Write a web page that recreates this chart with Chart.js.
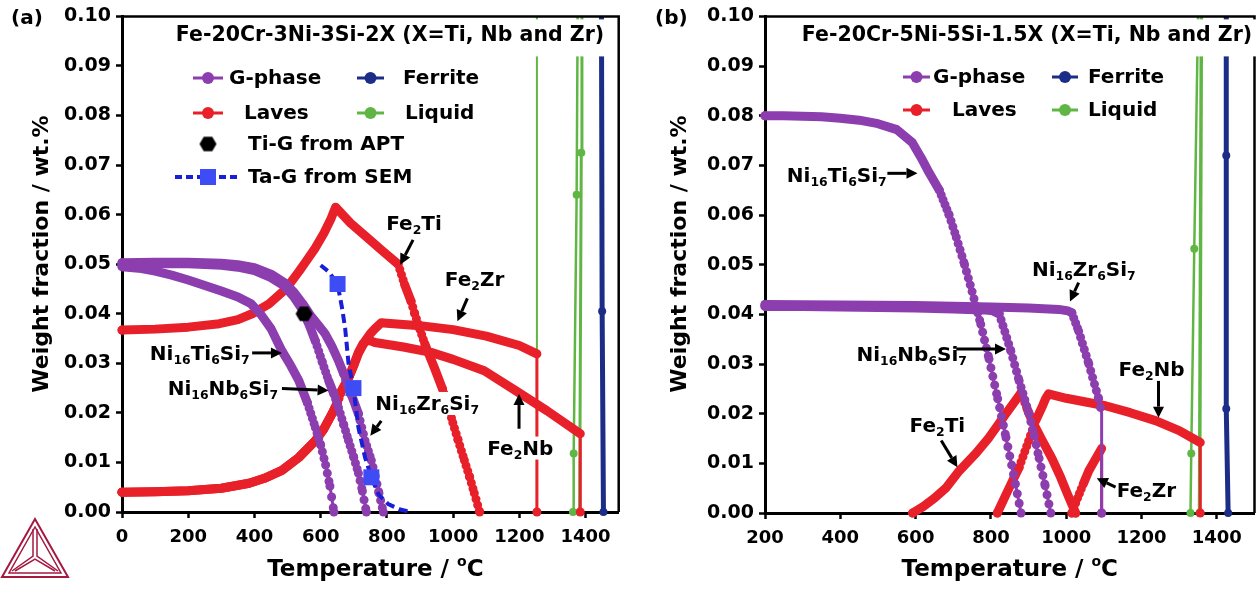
<!DOCTYPE html>
<html>
<head>
<meta charset="utf-8">
<script src="https://cdn.jsdelivr.net/npm/chart.js@4.4.1/dist/chart.umd.min.js"></script>
<style>
html, body { margin: 0; padding: 0; background: #fff; }
#wrap { position: relative; width: 1259px; height: 594px; }
#wrap canvas { position: absolute; top: 0; }
</style>
</head>
<body>
<div id="wrap">
  <canvas id="chartA" width="630" height="594" style="left:0;width:630px;height:594px"></canvas>
  <canvas id="chartB" width="629" height="594" style="left:630px;width:629px;height:594px"></canvas>
</div>
<script>
// ---- panel (a): Fe-20Cr-3Ni-3Si-2X, [temperature degC, weight fraction]
const gTiA = [[0,0.0495],[50,0.0492],[100,0.0486],[150,0.0478],[200,0.0468],[250,0.0457],[300,0.0446],[350,0.0434],[390,0.042],[420,0.0398],[450,0.037],[483,0.0325],[510,0.0295],[534,0.0265],[560,0.022],[584,0.017],[600,0.0135],[615,0.0095],[628,0.0052],[640,0]];
const gNbA = [[0,0.0500],[100,0.0501],[200,0.0501],[300,0.0498],[350,0.0494],[400,0.0487],[450,0.0473],[490,0.0456],[520,0.0433],[545,0.0408],[565,0.0378],[584,0.0345],[605,0.0302],[624,0.0265],[640,0.0238],[654,0.021],[670,0.0175],[684,0.0144],[700,0.011],[714,0.0078],[726,0.0042],[738,0]];
const gZrA = [[0,0.0503],[100,0.0504],[200,0.0504],[300,0.0502],[350,0.0499],[400,0.0493],[450,0.048],[490,0.0463],[520,0.0443],[545,0.0421],[570,0.0396],[594,0.0376],[614,0.0359],[634,0.0334],[654,0.0305],[670,0.0278],[684,0.025],[700,0.0224],[714,0.0198],[734,0.0144],[753,0.0104],[765,0.0072],[776,0.0038],[789,0]];
const fe2TiA = [[0,0.0367],[100,0.0369],[200,0.0373],[294,0.038],[350,0.0388],[393,0.040],[444,0.042],[495,0.045],[534,0.0485],[555,0.0505],[584,0.0533],[610,0.0563],[630,0.059],[645,0.0615],[690,0.0583],[738,0.0555],[790,0.0525],[834,0.050],[853,0.046],[873,0.0425],[884,0.040],[900,0.0368],[914,0.034],[930,0.0313],[944,0.029],[968,0.0248],[985,0.0215],[999,0.018],[1015,0.0145],[1034,0.0104],[1050,0.007],[1064,0.0038],[1080,0]];
const fe2ZrA = [[0,0.0040],[100,0.0041],[200,0.0043],[300,0.0048],[384,0.0058],[430,0.0068],[483,0.0084],[534,0.011],[584,0.0144],[610,0.0168],[634,0.0198],[650,0.022],[663,0.0245],[684,0.027],[700,0.0295],[714,0.032],[734,0.0345],[750,0.036],[764,0.037],[783,0.0382],[800,0.0381],[900,0.0376],[1000,0.0368],[1100,0.0355],[1200,0.0336],[1253,0.0319],[1253,0]];
const fe2NbA = [[0,0.0040],[100,0.0041],[200,0.0043],[300,0.0048],[384,0.0058],[430,0.0068],[483,0.0084],[534,0.011],[584,0.0144],[610,0.0168],[634,0.0198],[650,0.022],[663,0.0245],[684,0.027],[700,0.0298],[714,0.0322],[728,0.034],[744,0.0347],[764,0.0342],[850,0.0333],[933,0.0322],[1000,0.0308],[1094,0.0285],[1184,0.0247],[1284,0.0204],[1384,0.0158],[1384,0.0078],[1384,0]];
const liqA1 = [[1362,0],[1364,0.0118],[1373,0.064],[1376,0.1]];
const liqA2 = [[1382,0],[1387,0.0725],[1389,0.1]];
const liqA3 = [[1253,0],[1253,0.1]];
const ferA = [[1454,0],[1450,0.0405],[1448,0.1]];
const tiGAptA = [[550,0.040]];
const taGSemA = [[651,0.046],[699,0.025],[753,0.007]];
const taFitA = [[600,0.0498],[624,0.0485],[651,0.046],[665,0.041],[674,0.037],[684,0.030],[699,0.025],[714,0.017],[734,0.011],[753,0.007],[775,0.0035],[804,0.0016],[840,0.0005],[873,0]];

// ---- panel (b): Fe-20Cr-5Ni-5Si-1.5X
const gTiB = [[200,0.0800],[250,0.0800],[300,0.0799],[350,0.0798],[400,0.0795],[450,0.0791],[500,0.0784],[550,0.0772],[591,0.0746],[615,0.0715],[636,0.0685],[663,0.065],[689,0.060],[708,0.0555],[730,0.050],[750,0.0446],[773,0.038],[795,0.031],[818,0.023],[840,0.0152],[860,0.0078],[880,0]];
const gNbB = [[200,0.0416],[300,0.0416],[400,0.0415],[500,0.0414],[600,0.0413],[700,0.0411],[780,0.0409],[805,0.0407],[822,0.0401],[837,0.0365],[853,0.0326],[875,0.0266],[901,0.020],[915,0.0155],[928,0.011],[944,0.0055],[959,0]];
const gZrB = [[200,0.0420],[400,0.0419],[600,0.0418],[800,0.0415],[900,0.0413],[980,0.041],[1005,0.0407],[1015,0.0403],[1033,0.0366],[1060,0.030],[1086,0.023],[1094,0.0202],[1094,0]];
const fe2TiB = [[592,0],[620,0.0013],[650,0.003],[680,0.005],[716,0.0085],[760,0.012],[795,0.0152],[840,0.020],[880,0.0242],[895,0.0212],[909,0.0186],[935,0.0148],[962,0.011],[985,0.0072],[1005,0.0035],[1025,0]];
const fe2NbB = [[817,0],[845,0.0045],[875,0.0092],[900,0.0145],[919,0.0186],[935,0.0212],[945,0.023],[953,0.024],[1000,0.0231],[1104,0.0216],[1170,0.0202],[1237,0.0186],[1300,0.0166],[1356,0.0142],[1356,0]];
const fe2ZrB = [[1015,0],[1030,0.003],[1045,0.0058],[1060,0.0085],[1075,0.0105],[1094,0.013],[1094,0]];
const liqB1 = [[1330,0],[1332,0.012],[1340,0.0532],[1350,0.1]];
const liqB2 = [[1354,0],[1359,0.1]];
const ferB = [[1430,0],[1425,0.021],[1425,0.072],[1425,0.1]];

const PURPLE = 'rgb(140,62,175)';
const RED = 'rgb(232,32,42)';
const NAVY = 'rgb(28,45,135)';
const GREEN = 'rgb(96,182,68)';
const DASHBLUE = 'rgb(25,30,215)';
const SQBLUE = 'rgb(62,76,245)';
const STEP = 5; // calculation step of the thermodynamic curves, degC

Chart.defaults.font.family = '"DejaVu Sans"';
Chart.defaults.font.weight = 'bold';
Chart.defaults.color = '#000';

const pts = arr => arr.map(([x, y]) => ({ x, y }));
const font = s => `bold ${s}px "DejaVu Sans"`;

function segDT(ctx) {
  const d = ctx.chart.data.datasets[ctx.datasetIndex].data;
  return Math.abs(d[ctx.p1DataIndex].x - d[ctx.p0DataIndex].x);
}

// one bead per calculation step where the curve is steep, solid band elsewhere
function beadDash(ctx) {
  const dT = segDT(ctx);
  if (dT < 1) return undefined;
  const len = Math.hypot(ctx.p1.x - ctx.p0.x, ctx.p1.y - ctx.p0.y);
  const gap = len * STEP / dT;
  return gap < 5 ? [] : [0.01, gap];
}

function curve(arr, color) {
  const data = pts(arr);
  return [
    { data, showLine: true, borderColor: color, borderWidth: 3, pointRadius: 0, clip: false },
    {
      data, showLine: true, borderColor: color, borderWidth: 9,
      borderCapStyle: 'round', borderJoinStyle: 'round', clip: false,
      pointRadius: c => (c.dataIndex === 0 || c.dataIndex === c.dataset.data.length - 1) ? 4.5 : 0,
      pointBackgroundColor: color, pointBorderWidth: 0,
      segment: {
        borderDash: beadDash,
        borderColor: c => segDT(c) < 1 ? 'rgba(0,0,0,0)' : undefined
      }
    }
  ];
}

function phaseLine(arr, color, width) {
  return {
    data: pts(arr), showLine: true, borderColor: color, borderWidth: width, clip: false,
    pointRadius: c => c.raw && c.raw.y >= 0.1 ? 0 : 4,
    pointBackgroundColor: color, pointBorderWidth: 0
  };
}

function hexCanvas(r) {
  const cv = document.createElement('canvas');
  const s = Math.ceil(2 * r + 2);
  cv.width = s; cv.height = s;
  const g = cv.getContext('2d');
  g.fillStyle = '#000';
  g.beginPath();
  for (let i = 0; i < 6; i++) {
    const t = Math.PI / 3 * i;
    g.lineTo(s / 2 + r * Math.cos(t), s / 2 + r * Math.sin(t));
  }
  g.closePath();
  g.fill();
  return cv;
}
const HEX = hexCanvas(8.5);

function drawRich(c, parts, x, yMid, s, bg) {
  let w = 0;
  parts.forEach((p, i) => { c.font = font(i % 2 ? s * 0.62 : s); w += c.measureText(p).width; });
  if (bg) { c.fillStyle = '#fff'; c.fillRect(x - 2, yMid - s * 0.55, w + 4, s * 1.15); }
  c.fillStyle = '#000';
  c.textAlign = 'left';
  c.textBaseline = 'alphabetic';
  const base = yMid + s * 0.36;
  let cx = x;
  parts.forEach((p, i) => {
    const sub = i % 2 === 1;
    c.font = font(sub ? s * 0.62 : s);
    c.fillText(p, cx, sub ? base + s * 0.2 : base);
    cx += c.measureText(p).width;
  });
  return w;
}

function arrow(c, x1, y1, x2, y2) {
  const ang = Math.atan2(y2 - y1, x2 - x1), L = 11, W = 5.5;
  const bx = x2 - L * Math.cos(ang), by = y2 - L * Math.sin(ang);
  c.strokeStyle = '#000'; c.lineWidth = 3; c.setLineDash([]);
  c.beginPath(); c.moveTo(x1, y1); c.lineTo(bx, by); c.stroke();
  c.fillStyle = '#000';
  c.beginPath();
  c.moveTo(x2, y2);
  c.lineTo(bx - W * Math.sin(ang), by + W * Math.cos(ang));
  c.lineTo(bx + W * Math.sin(ang), by - W * Math.cos(ang));
  c.closePath(); c.fill();
}

function logo(c) {
  const col = 'rgb(165,25,65)';
  c.strokeStyle = col; c.lineJoin = 'miter';
  c.lineWidth = 2;
  c.beginPath(); c.moveTo(35, 519); c.lineTo(2, 577); c.lineTo(68, 577); c.closePath(); c.stroke();
  c.lineWidth = 1.5;
  c.beginPath(); c.moveTo(35, 527); c.lineTo(9, 573); c.lineTo(61, 573); c.closePath(); c.stroke();
  c.beginPath();
  c.moveTo(33, 529); c.lineTo(33, 556); c.lineTo(12, 571);
  c.moveTo(37, 529); c.lineTo(37, 556); c.lineTo(58, 571);
  c.moveTo(15, 571); c.lineTo(35, 559); c.lineTo(55, 571);
  c.stroke();
}

const decor = {
  id: 'decor',
  afterDraw(chart, args, o) {
    const c = chart.ctx, a = chart.chartArea, xs = chart.scales.x, ys = chart.scales.y;
    const px = (T, w) => [xs.getPixelForValue(T), ys.getPixelForValue(w)];
    c.save();
    // top and right frame
    c.strokeStyle = '#000'; c.lineWidth = 2.5;
    c.beginPath(); c.moveTo(a.left, a.top); c.lineTo(a.right, a.top); c.lineTo(a.right, a.bottom); c.stroke();

    // title with white box
    c.font = font(o.titleSize);
    const tw = c.measureText(o.title).width;
    c.fillStyle = '#fff';
    c.fillRect(o.titleX - tw / 2 - 4, a.top + 3, tw + 8, 37);
    c.fillStyle = '#000'; c.textAlign = 'center'; c.textBaseline = 'middle';
    c.fillText(o.title, o.titleX, 36);

    // legend
    o.legend.forEach(it => {
      if (it.kind === 'mk') {
        c.strokeStyle = it.color; c.lineWidth = 3; c.setLineDash([]);
        c.beginPath(); c.moveTo(it.x1, it.y); c.lineTo(it.x2, it.y); c.stroke();
        c.fillStyle = it.color;
        c.beginPath(); c.arc((it.x1 + it.x2) / 2, it.y, 6, 0, Math.PI * 2); c.fill();
      } else if (it.kind === 'hex') {
        c.drawImage(HEX, it.cx - HEX.width / 2, it.y - HEX.height / 2);
      } else if (it.kind === 'dash') {
        c.strokeStyle = DASHBLUE; c.lineWidth = 4; c.setLineDash([7, 4]);
        c.beginPath(); c.moveTo(it.x1, it.y); c.lineTo(it.x2, it.y); c.stroke();
        c.setLineDash([]);
        c.fillStyle = SQBLUE; c.fillRect(it.cx - 8, it.y - 8, 16, 16);
      }
      c.font = font(20); c.fillStyle = '#000'; c.textAlign = 'left'; c.textBaseline = 'middle';
      c.fillText(it.text, it.tx, it.y + 1);
    });

    // curve labels and arrows
    o.notes.forEach(n => { const [x, y] = px(n.T, n.w); drawRich(c, n.t, x, y, 20, true); });
    o.arrows.forEach(r => { const [x1, y1] = px(r[0], r[1]); const [x2, y2] = px(r[2], r[3]); arrow(c, x1, y1, x2, y2); });

    // panel label
    c.font = font(20); c.fillStyle = '#000'; c.textAlign = 'left'; c.textBaseline = 'middle';
    c.fillText(o.panel, o.panelX, 19);

    // axis titles
    c.font = font(22);
    c.save();
    c.translate(o.yTitleX, 254);
    c.rotate(-Math.PI / 2);
    c.textAlign = 'center';
    c.fillText('Weight fraction / wt.%', 0, 0);
    c.restore();
    const p1 = 'Temperature / ', p3 = 'C';
    c.font = font(23); const w1 = c.measureText(p1).width, w3 = c.measureText(p3).width;
    c.font = font(14); const w2 = c.measureText('o').width;
    let x0 = (a.left + a.right) / 2 + o.xTitleShift - (w1 + w2 + w3) / 2;
    c.textAlign = 'left'; c.textBaseline = 'alphabetic';
    c.font = font(23); c.fillText(p1, x0, 576);
    c.font = font(14); c.fillText('o', x0 + w1, 566);
    c.font = font(23); c.fillText(p3, x0 + w1 + w2, 576);

    if (o.logo) logo(c);
    c.restore();
  }
};

function makeChart(id, datasets, xmin, yAxisWidth, padRight, xAxisHeight, deco) {
  return new Chart(document.getElementById(id), {
    type: 'scatter',
    data: { datasets },
    options: {
      responsive: false,
      animation: false,
      events: [],
      layout: { padding: { left: 0, right: padRight, top: 13, bottom: 0 } },
      plugins: { legend: { display: false }, tooltip: { enabled: false }, decor: deco },
      scales: {
        x: {
          type: 'linear', min: xmin, max: 1500,
          afterFit: s => { s.height = xAxisHeight; },
          border: { display: true, color: '#000', width: 3 },
          grid: { display: true, drawOnChartArea: false, drawTicks: true, tickLength: 6, tickWidth: 2.5, color: '#000' },
          ticks: { stepSize: 200, includeBounds: false, autoSkip: false, maxRotation: 0, padding: 9, font: { size: 18, weight: 'bold' }, color: '#000', callback: v => String(v) }
        },
        y: {
          min: 0, max: 0.1,
          afterFit: s => { s.width = yAxisWidth; },
          border: { display: true, color: '#000', width: 3 },
          grid: { display: true, drawOnChartArea: false, drawTicks: true, tickLength: 6, tickWidth: 2.5, color: '#000' },
          ticks: { stepSize: 0.01, padding: 5, font: { size: 19, weight: 'bold' }, color: '#000', callback: v => v.toFixed(2) }
        }
      }
    },
    plugins: [decor]
  });
}

const NI_TI = ['Ni', '16', 'Ti', '6', 'Si', '7'];
const NI_NB = ['Ni', '16', 'Nb', '6', 'Si', '7'];
const NI_ZR = ['Ni', '16', 'Zr', '6', 'Si', '7'];

const datasetsA = [
  { data: pts(taGSemA), pointStyle: 'rect', pointRadius: 11.3, pointBackgroundColor: SQBLUE, pointBorderWidth: 0, clip: false },
  { data: pts(tiGAptA), pointStyle: HEX, clip: false },
  { data: pts(taFitA), showLine: true, borderColor: DASHBLUE, borderWidth: 4, borderDash: [9, 5], pointRadius: 0, clip: false },
  ...curve(gTiA, PURPLE), ...curve(gNbA, PURPLE), ...curve(gZrA, PURPLE),
  ...curve(fe2TiA, RED), ...curve(fe2ZrA, RED), ...curve(fe2NbA, RED),
  phaseLine(liqA1, GREEN, 2.5), phaseLine(liqA2, GREEN, 3), phaseLine(liqA3, GREEN, 2),
  phaseLine(ferA, NAVY, 5)
];

const datasetsB = [
  ...curve(gTiB, PURPLE), ...curve(gNbB, PURPLE), ...curve(gZrB, PURPLE),
  ...curve(fe2TiB, RED), ...curve(fe2NbB, RED), ...curve(fe2ZrB, RED),
  phaseLine(liqB1, GREEN, 2.5), phaseLine(liqB2, GREEN, 3.5),
  phaseLine(ferB, NAVY, 5)
];

makeChart('chartA', datasetsA, 0, 122, 7, 82, {
  title: 'Fe-20Cr-3Ni-3Si-2X (X=Ti, Nb and Zr)', titleX: 390, titleSize: 20.5,
  panel: '(a)', panelX: 11, yTitleX: 42, xTitleShift: 5, logo: true,
  legend: [
    { kind: 'mk', color: PURPLE, x1: 193, x2: 223, y: 78, tx: 229, text: 'G-phase' },
    { kind: 'mk', color: NAVY, x1: 357, x2: 384, y: 78, tx: 403, text: 'Ferrite' },
    { kind: 'mk', color: RED, x1: 193, x2: 223, y: 113, tx: 244, text: 'Laves' },
    { kind: 'mk', color: GREEN, x1: 357, x2: 384, y: 113, tx: 405, text: 'Liquid' },
    { kind: 'hex', cx: 208, y: 144, tx: 248, text: 'Ti-G from APT' },
    { kind: 'dash', x1: 175, x2: 240, cx: 208, y: 177, tx: 248, text: 'Ta-G from SEM' }
  ],
  notes: [
    { t: ['Fe', '2', 'Ti'], T: 798, w: 0.0583 },
    { t: ['Fe', '2', 'Zr'], T: 975, w: 0.0471 },
    { t: NI_TI, T: 84, w: 0.0321 },
    { t: NI_NB, T: 138, w: 0.025 },
    { t: NI_ZR, T: 765, w: 0.022 },
    { t: ['Fe', '2', 'Nb'], T: 1103, w: 0.013 }
  ],
  arrows: [
    [879, 0.0549, 840, 0.0499], [1043, 0.0431, 1013, 0.0385],
    [393, 0.0321, 483, 0.0321], [483, 0.0249, 624, 0.0245],
    [783, 0.0184, 750, 0.0154], [1199, 0.0168, 1199, 0.0238]
  ]
});

makeChart('chartB', datasetsB, 200, 135, 3, 81, {
  title: 'Fe-20Cr-5Ni-5Si-1.5X (X=Ti, Nb and Zr)', titleX: 397, titleSize: 20.5,
  panel: '(b)', panelX: 25, yTitleX: 50, xTitleShift: 0, logo: false,
  legend: [
    { kind: 'mk', color: PURPLE, x1: 273, x2: 300, y: 77, tx: 303, text: 'G-phase' },
    { kind: 'mk', color: NAVY, x1: 422, x2: 448, y: 77, tx: 458, text: 'Ferrite' },
    { kind: 'mk', color: RED, x1: 273, x2: 300, y: 110, tx: 322, text: 'Laves' },
    { kind: 'mk', color: GREEN, x1: 422, x2: 448, y: 110, tx: 458, text: 'Liquid' }
  ],
  notes: [
    { t: NI_TI, T: 258, w: 0.0682 },
    { t: NI_ZR, T: 909, w: 0.0492 },
    { t: NI_NB, T: 443, w: 0.032 },
    { t: ['Fe', '2', 'Ti'], T: 584, w: 0.0178 },
    { t: ['Fe', '2', 'Nb'], T: 1139, w: 0.029 },
    { t: ['Fe', '2', 'Zr'], T: 1134, w: 0.0046 }
  ],
  arrows: [
    [525, 0.0684, 605, 0.0684], [1033, 0.0464, 1010, 0.0426],
    [708, 0.033, 840, 0.033], [668, 0.0146, 711, 0.0092],
    [1245, 0.0266, 1245, 0.0192], [1131, 0.0052, 1081, 0.007]
  ]
});
</script>
</body>
</html>
